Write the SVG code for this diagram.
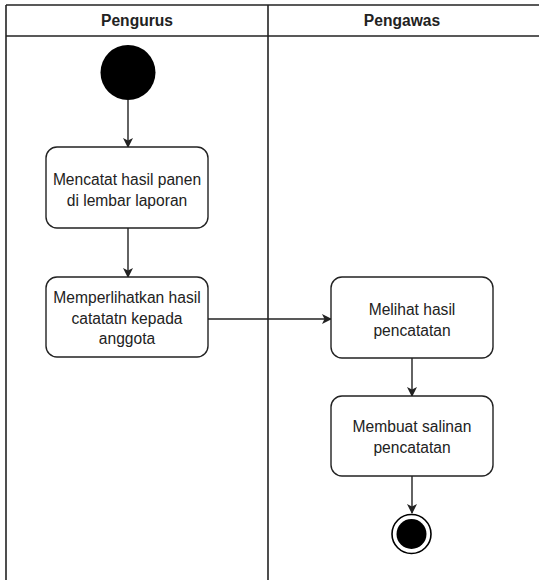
<svg xmlns="http://www.w3.org/2000/svg" width="539" height="580" viewBox="0 0 539 580">
  <style>
    .lane { fill: none; stroke: #222; stroke-width: 1.6; }
    .head { font-family: "Liberation Sans", Arial, sans-serif; font-size: 15.6px; font-weight: bold; fill: #222; text-anchor: middle; }
    .act rect { fill: #fff; stroke: #222; stroke-width: 1.4; }
    .act text { font-family: "Liberation Sans", Arial, sans-serif; font-size: 15.6px; fill: #222; text-anchor: middle; }
    .edge { fill: none; stroke: #222; stroke-width: 1.4; marker-end: url(#arrow); }
  </style>
  <defs>
    <marker id="arrow" viewBox="0 0 10 10" refX="9" refY="5" markerWidth="10" markerHeight="10" markerUnits="userSpaceOnUse" orient="auto">
      <path d="M0,0 L10,5 L0,10 L2.5,5 Z" fill="#222"/>
    </marker>
  </defs>
  <rect width="539" height="580" fill="#fff"/>

  <!-- swimlanes -->
  <g id="lanes">
    <line class="lane" x1="6" y1="5" x2="539" y2="5"/>
    <line class="lane" x1="6" y1="36" x2="539" y2="36"/>
    <line class="lane" x1="6" y1="5" x2="6" y2="580"/>
    <line class="lane" x1="268" y1="5" x2="268" y2="580"/>
    <text class="head" x="137" y="26">Pengurus</text>
    <text class="head" x="402" y="26">Pengawas</text>
  </g>

  <!-- connectors -->
  <g id="connectors">
    <line class="edge" x1="128" y1="100" x2="128" y2="147"/>
    <line class="edge" x1="128" y1="228" x2="128" y2="277"/>
    <line class="edge" x1="208" y1="319" x2="331" y2="319"/>
    <line class="edge" x1="412" y1="358" x2="412" y2="396"/>
    <line class="edge" x1="412" y1="476" x2="412" y2="513"/>
  </g>

  <g id="start">
    <circle cx="128" cy="72.5" r="27.5" fill="#000"/>
  </g>

  <g id="mencatat" class="act">
    <rect x="46" y="147" width="162" height="81" rx="11"/>
    <text x="127" y="185">Mencatat hasil panen</text>
    <text x="127" y="206">di lembar laporan</text>
  </g>

  <g id="memperlihatkan" class="act">
    <rect x="46" y="277" width="162" height="80" rx="11"/>
    <text x="127" y="303">Memperlihatkan hasil</text>
    <text x="127" y="324">catatatn kepada</text>
    <text x="127" y="344">anggota</text>
  </g>

  <g id="melihat" class="act">
    <rect x="331" y="277" width="162" height="81" rx="11"/>
    <text x="412" y="315">Melihat hasil</text>
    <text x="412" y="336">pencatatan</text>
  </g>

  <g id="membuat" class="act">
    <rect x="331" y="396" width="162" height="80" rx="11"/>
    <text x="412" y="432">Membuat salinan</text>
    <text x="412" y="453">pencatatan</text>
  </g>

  <g id="end">
    <circle cx="411.5" cy="534" r="19.5" fill="#fff" stroke="#000" stroke-width="1.6"/>
    <circle cx="411.5" cy="534" r="15" fill="#000"/>
  </g>
</svg>
